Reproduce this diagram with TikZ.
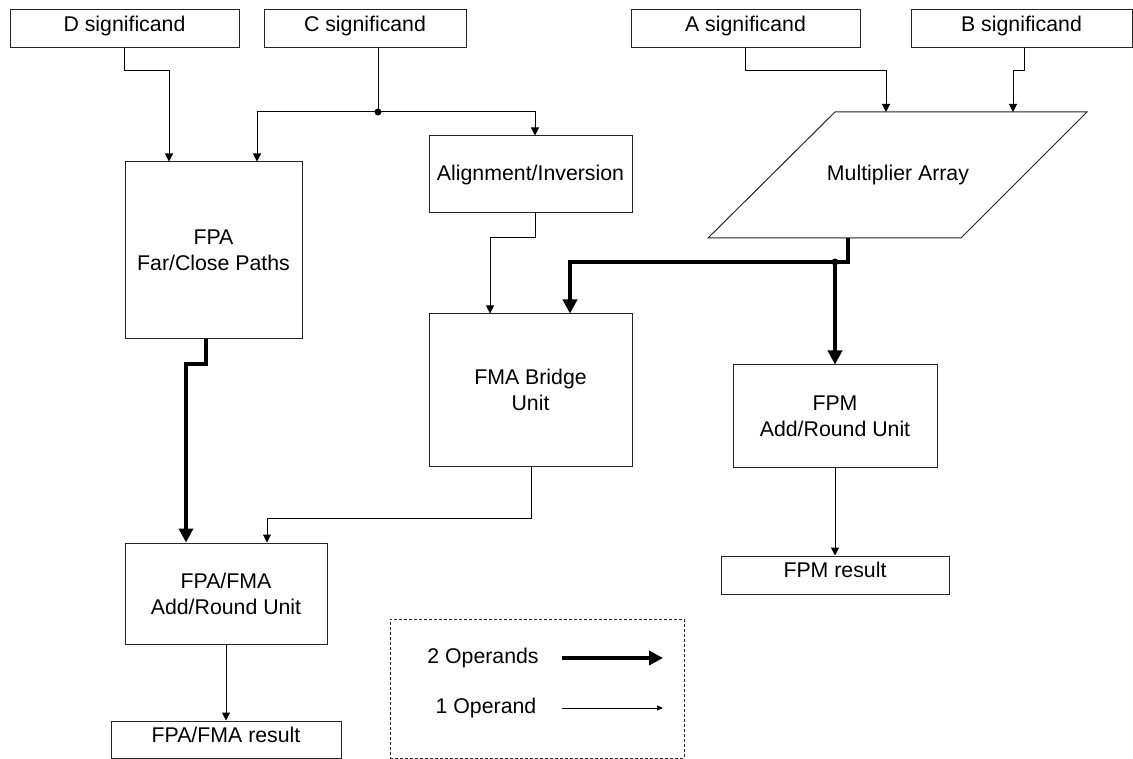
\documentclass[tikz,border=0pt]{standalone}
\usepackage{fontspec}
\setmainfont{Liberation Sans}
\usetikzlibrary{arrows.meta,calc}
\begin{document}
\begin{tikzpicture}[x=1pt,y=-1pt,
  every node/.style={font=\fontsize{21.3}{26}\selectfont},
  block/.style={draw=black!85, line width=1pt, rectangle, inner sep=0pt, align=center},
  io/.style={block, text depth=10pt},
  one/.style={line width=1pt, -{Triangle[length=8pt,width=8pt]}},
  onesmall/.style={line width=1pt, -{Triangle[length=6pt,width=5pt]}},
  plain/.style={line width=1pt},
  two/.style={line width=3.5pt, -{Triangle[length=14pt,width=14pt]}},
  dot/.style={fill=black}]
\useasboundingbox (0,0) rectangle (1133,759);

% operand inputs
\node[io, minimum width=229pt, minimum height=38pt] (dsig) at (124.5,29) {D significand};
\node[io, minimum width=202pt, minimum height=38pt] (csig) at (365,29) {C significand};
\node[io, minimum width=229pt, minimum height=38pt] (asig) at (745.5,29) {A significand};
\node[io, minimum width=221pt, minimum height=38pt] (bsig) at (1021.5,29) {B significand};

% processing units
\node[block, minimum width=203pt, minimum height=77pt] (align) at (530.5,174.5) {Alignment/Inversion};
\node[block, minimum width=177pt, minimum height=177pt] (fpa) at (213.5,250.5) {FPA\\Far/Close Paths};
\node[block, minimum width=203pt, minimum height=152pt] (bridge) at (530.5,390) {FMA Bridge\\Unit};
\node[block, minimum width=204pt, minimum height=102pt] (fpm) at (835,416) {FPM\\Add/Round Unit};
\node[block, minimum width=202pt, minimum height=101pt] (addr) at (226,593.5) {FPA/FMA\\Add/Round Unit};

% multiplier array (parallelogram)
\draw[plain, draw=black!85] (835,112) coordinate (mtl) -- (1087,112) coordinate (mtr)
  -- (961,238) coordinate (mbr) -- (708,238) coordinate (mbl) -- cycle;
\node (mult) at (898,175) {Multiplier Array};

% results
\node[io, minimum width=228pt, minimum height=38pt] (fpmres) at (835,575) {FPM result};
\node[io, minimum width=230pt, minimum height=37pt] (fpares) at (226,739.5) {FPA/FMA result};

% legend
\node[draw=black!85, line width=1pt, dash pattern=on 3pt off 2pt, minimum width=294pt,
  minimum height=139pt, inner sep=0pt] (legend) at (537,688.5) {};
\node (l2) at (483,658) {2 Operands};
\node (l1) at (486,708) {1 Operand};
\coordinate (l2a) at (562,658);
\coordinate (l2b) at (663,658);
\coordinate (l1a) at (562,708);
\coordinate (l1b) at (663,708);
\draw[two] (l2a) -- (l2b);
\draw[onesmall] (l1a) -- (l1b);

% junction points
\coordinate (jc) at (378,112);
\coordinate (jm) at (835,262);

% single-operand connectors
\draw[one] (dsig.south) |- (169,71) -- (fpa.north -| 169,0);
\draw[plain] (csig.south -| 378,0) -- (jc);
\draw[one] (jc) -| (fpa.north -| 257,0);
\draw[one] (jc) -| (align.north -| 535,0);
\fill[dot] (jc) circle (3.5pt);
\draw[one] (asig.south) |- (886,71) -- (mtl -| 886,0);
\draw[one] (bsig.south -| 1024,0) |- (1013,71) -- (mtl -| 1013,0);
\draw[one] (align.south -| 535,0) |- (490,238) -- (bridge.north -| 490,0);
\draw[one] (bridge.south -| 531,0) |- (267,518) -- (addr.north -| 267,0);
\draw[one] (addr.south) -- (fpares.north);
\draw[one] (fpm.south) -- (fpmres.north);

% two-operand connectors
\draw[two] (mbl -| 848,0) |- (570,262) -- (bridge.north -| 570,0);
\draw[two] (jm) -- (fpm.north);
\fill[dot] (jm) circle (3.5pt);
\draw[two] (fpa.south -| 206,0) |- (186,364) -- (addr.north -| 186,0);
\end{tikzpicture}
\end{document}
